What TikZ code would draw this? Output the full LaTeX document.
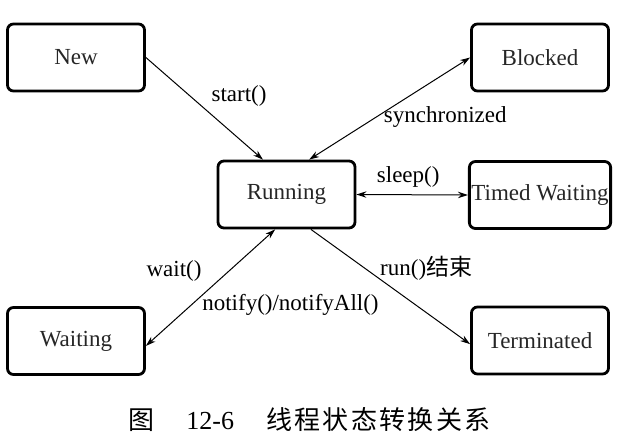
\documentclass[tikz,border=0pt]{standalone}
\usepackage{fontspec}
\setmainfont{Liberation Serif}
\newfontfamily\cjk{Noto Sans CJK SC}
\newfontfamily\cjkcap[LetterSpace=9]{Noto Sans CJK SC}
\usetikzlibrary{arrows.meta,positioning}

\begin{document}
\begin{tikzpicture}[
    x=0.5pt, y=-0.5pt,
    font=\fontsize{11.5}{13.5}\selectfont,
    state/.style={
      draw,line width=1.4pt,rounded corners=3pt,
      minimum width=68.5pt,minimum height=33.5pt,inner sep=1pt,
      text=black!85
    },
    trans/.style={-{Stealth[length=5pt,width=3.2pt]},line width=0.5pt},
    doubletrans/.style={{Stealth[length=5pt,width=3.2pt]}-{Stealth[length=5pt,width=3.2pt]},line width=0.5pt}
  ]
  \useasboundingbox (0,0) rectangle (635,444);

  \node (new)   [state] at (76,57.5)    {New};
  \node (block) [state] at (540,57.5)   {Blocked};
  \node (run)   [state] at (286.5,194.5) {Running};
  \node (timed) [state] at (540,195)    {Timed Waiting};
  \node (wait)  [state] at (76,341)     {Waiting};
  \node (term)  [state] at (540,340.5)  {Terminated};

  % draw edges
  \draw [trans] (new.east) to
    node[pos=0.38,anchor=west,xshift=7pt] {start()} (run.124);
  \draw [doubletrans] (run.57) to
    node[pos=0.42,anchor=west] {synchronized} (block.west);
  \draw [doubletrans] (run.east) to
    node[midway,above,xshift=-2pt] {sleep()} (timed.west);
  \draw [doubletrans] (run.252) to
    node[pos=0.36,anchor=east,xshift=-10pt] {wait()}
    node[pos=0.65,anchor=west,xshift=2pt] {notify()/notifyAll()} (wait.-4);
  \draw [trans] (run.305) to
    node[pos=0.34,anchor=west,xshift=4pt] {run(){\cjk 结束}} (term.183);

  % caption
  \node (cap) at (309.5,420)
    {\fontsize{13}{15}\selectfont{\cjk 图}\hspace{16pt}12-6\hspace{16pt}{\cjkcap 线程状态转换关系}};
\end{tikzpicture}
\end{document}
